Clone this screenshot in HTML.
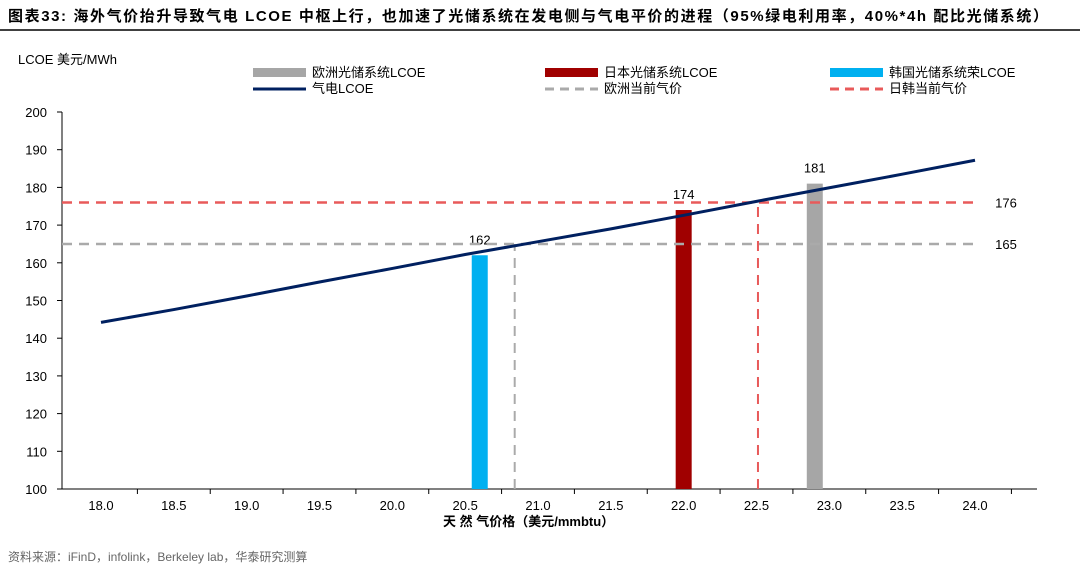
<!DOCTYPE html>
<html><head><meta charset="utf-8"><style>
body{margin:0;background:#fff;font-family:"Liberation Sans","Noto Sans CJK SC",sans-serif;}
svg text{font-family:"Liberation Sans","Noto Sans CJK SC",sans-serif;}
</style></head><body>
<svg width="1080" height="572" id="c">
<text x="8" y="21" font-size="15" font-weight="bold" fill="#000" textLength="1040">图表33:  海外气价抬升导致气电 LCOE 中枢上行，也加速了光储系统在发电侧与气电平价的进程（95%绿电利用率，40%*4h 配比光储系统）</text>
<line x1="0" y1="30" x2="1080" y2="30" stroke="#000" stroke-width="1.5"/>
<text x="18" y="64" font-size="13" fill="#000">LCOE 美元/MWh</text>
<g font-size="13" fill="#000">
<rect x="253" y="68" width="53" height="9" fill="#a6a6a6"/>
<text x="312" y="77">欧洲光储系统LCOE</text>
<line x1="253" y1="89" x2="306" y2="89" stroke="#002060" stroke-width="3"/>
<text x="312" y="93">气电LCOE</text>
<rect x="545" y="68" width="53" height="9" fill="#a00000"/>
<text x="604" y="77">日本光储系统LCOE</text>
<line x1="545" y1="89" x2="598" y2="89" stroke="#aaa" stroke-width="3" stroke-dasharray="9,6"/>
<text x="604" y="93">欧洲当前气价</text>
<rect x="830" y="68" width="53" height="9" fill="#00b0f0"/>
<text x="889" y="77">韩国光储系统荣LCOE</text>
<line x1="830" y1="89" x2="883" y2="89" stroke="#e85a5a" stroke-width="3" stroke-dasharray="9,6"/>
<text x="889" y="93">日韩当前气价</text>
</g>
<g id="plot"></g>
<text x="443" y="526" font-size="13" font-weight="bold" fill="#000">天 然 气价格（美元/mmbtu）</text>
<text x="8" y="561" font-size="12" fill="#666">资料来源：iFinD，infolink，Berkeley lab，华泰研究测算</text>
</svg>
<script>
const xTicks=[18.0,18.5,19.0,19.5,20.0,20.5,21.0,21.5,22.0,22.5,23.0,23.5,24.0];
const yTicks=[100,110,120,130,140,150,160,170,180,190,200];
const gasX=[18.0,18.5,19.0,19.5,20.0,20.5,21.0,21.5,22.0,22.5,23.0,23.5,24.0];
const gasY=[144.2,147.6,151.2,154.9,158.5,162.2,165.6,169.0,172.6,176.3,179.9,183.5,187.2];
const barNames=["korea","japan","europe"];
const barX=[20.6,22.0,22.9];
const barY=[162,174,181];
const barColors=["#00b0f0","#a00000","#a6a6a6"];
const euPrice=[20.84,165];
const jkPrice=[22.51,176];
const NS="http://www.w3.org/2000/svg";
const X=v=>101+(v-18)*145.67;
const Y=v=>489-(v-100)*3.77;
const g=document.getElementById('plot');
function mk(t,a){const e=document.createElementNS(NS,t);for(const k in a)e.setAttribute(k,a[k]);g.appendChild(e);return e;}
yTicks.forEach(v=>{const t=mk('text',{x:47,y:Y(v)+5,'font-size':13,'text-anchor':'end',fill:'#000'});t.textContent=v;


const l=mk('line',{x1:57,x2:62,y1:Y(v),y2:Y(v),stroke:'#000'});

});
xTicks.forEach(v=>{const t=mk('text',{x:X(v),y:510,'font-size':13,'text-anchor':'middle',fill:'#000'});t.textContent=v.toFixed(1);


const l=mk('line',{x1:X(v)+36.4,x2:X(v)+36.4,y1:489,y2:494,stroke:'#000'});

});
let a=mk('line',{x1:62,x2:62,y1:Y(200),y2:489,stroke:'#000'});


a=mk('line',{x1:62,x2:1037,y1:489,y2:489,stroke:'#000'});


barX.forEach((v,i)=>{const r=mk('rect',{x:X(v)-8,y:Y(barY[i]),width:16,height:489-Y(barY[i]),fill:barColors[i]});


const t=mk('text',{x:X(v),y:Y(barY[i])-11,'font-size':13,'text-anchor':'middle',fill:'#000'});t.textContent=barY[i];

});
[[euPrice,'#aaa','eu'],[jkPrice,'#e85a5a','jk']].forEach(([p,c,n])=>{
const h=mk('line',{x1:62,x2:980,y1:Y(p[1]),y2:Y(p[1]),stroke:c,'stroke-width':2.5,'stroke-dasharray':'10,7'});


const v=mk('line',{x1:X(p[0]),x2:X(p[0]),y1:489,y2:Y(p[1]),stroke:c,'stroke-width':2,'stroke-dasharray':'10,7'});


const t=mk('text',{x:1006,y:Y(p[1])+5,'font-size':13,'text-anchor':'middle',fill:'#000'});t.textContent=p[1];

});
const pl=mk('polyline',{points:gasX.map((v,i)=>X(v)+','+Y(gasY[i])).join(' '),fill:'none',stroke:'#002060','stroke-width':3});


</script>
</body></html>
